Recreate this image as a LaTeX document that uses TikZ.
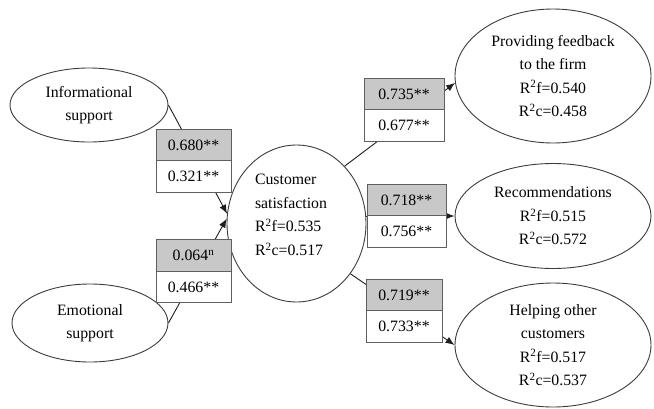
\documentclass[tikz,border=0pt]{standalone}
\usepackage{fontspec}
\setmainfont{Liberation Serif}
\usepackage{tikz}
\usetikzlibrary{positioning, arrows.meta, shapes.geometric}
\definecolor{ink}{RGB}{30,30,30}
\definecolor{rim}{RGB}{60,60,60}
\definecolor{boxline}{RGB}{95,95,95}
\definecolor{shade}{RGB}{200,200,200}
\tikzset{
  construct/.style={ellipse, draw=rim, line width=0.9pt, fill=white, inner sep=0pt,
                    align=center, font=\fontsize{15.8}{23.5}\selectfont},
  pathbox/.style  ={rectangle, draw=boxline, line width=0.9pt, inner sep=0pt, outer sep=0pt,
                    minimum height=31.5pt, font=\fontsize{15.8}{18}\selectfont},
  fbox/.style     ={pathbox, fill=shade},
  cbox/.style     ={pathbox, fill=white},
  arr/.style      ={-{Latex[length=9pt, width=7pt]}, line width=0.9pt, color=ink},
}
\begin{document}
\begin{tikzpicture}[x=1pt, y=-1pt]
\useasboundingbox (0,0) rectangle (654,408);
% constructs
\node[construct, minimum width=158pt, minimum height=74pt] (info) at (89,105) {Informational\\support};
\node[construct, minimum width=156pt, minimum height=78pt] (emo) at (90,323) {Emotional\\support};
\node[construct, minimum width=139pt, minimum height=157pt] (cs) at (296.5,223.5) {};
\node[align=left, font=\fontsize{15.8}{23.5}\selectfont] (cs-text) at (291,215)
  {Customer\\satisfaction\\R\textsuperscript{2}f=0.535\\R\textsuperscript{2}c=0.517};
\node[construct, minimum width=196pt, minimum height=134pt] (pv) at (553,76)
  {Providing feedback\\to the firm\\R\textsuperscript{2}f=0.540\\R\textsuperscript{2}c=0.458};
\node[construct, minimum width=196pt, minimum height=105pt] (rec) at (553,216)
  {Recommendations\\R\textsuperscript{2}f=0.515\\R\textsuperscript{2}c=0.572};
\node[construct, minimum width=196pt, minimum height=124pt] (hp) at (553,345)
  {Helping other\\customers\\R\textsuperscript{2}f=0.517\\R\textsuperscript{2}c=0.537};
% paths
\draw[arr] (info.east) -- (cs.172);
\draw[arr] (emo.east) -- (cs.176);
\draw[arr] (cs.50) -- (pv.184);
\draw[arr] (cs.east |- rec.west) -- (rec.west);
\draw[arr] (cs.-43) -- (hp.west);
% coefficients
\foreach \n/\x/\y/\w/\f/\c in {in/193.5/145/75/{0.680**}/{0.321**},
                               em/193.5/255.5/75/{0.064\textsuperscript{n}}/{0.466**},
                               pv/404/94/80/{0.735**}/{0.677**},
                               rc/406.5/200/79/{0.718**}/{0.756**},
                               hp/404/295/76/{0.719**}/{0.733**}} {
  \node[fbox, minimum width=\w pt] (\n-f) at (\x,\y) {\f};
  \node[cbox, minimum width=\w pt, below=0pt of \n-f] (\n-c) {\c};
}
\end{tikzpicture}
\end{document}
